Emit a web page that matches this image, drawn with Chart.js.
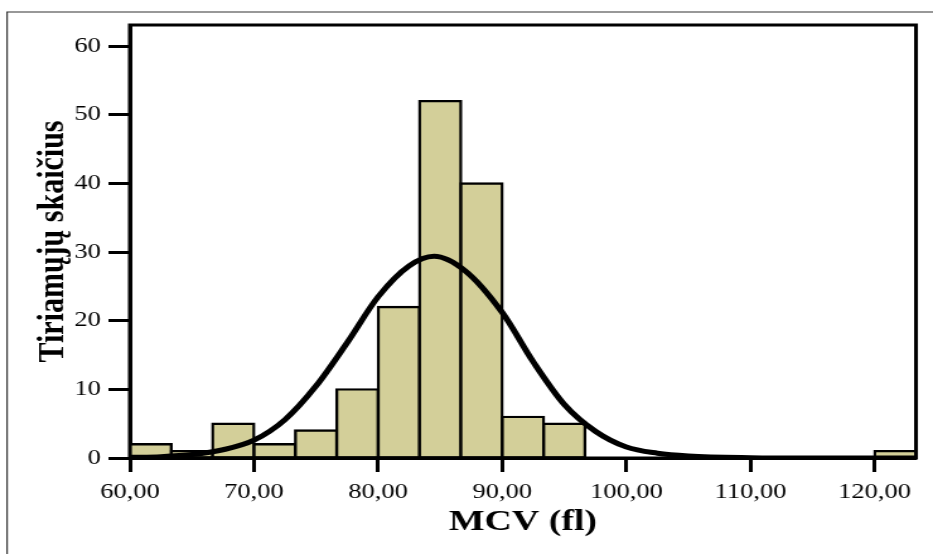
<!DOCTYPE html>
<html>
<head>
<meta charset="utf-8">
<script src="https://cdn.jsdelivr.net/npm/chart.js@4.4.1/dist/chart.umd.min.js"></script>
<style>
  html, body { margin: 0; padding: 0; background: #fff; }
  #hist { display: block; width: 933px; height: 554px; }
</style>
</head>
<body>
<canvas id="hist" width="740" height="554" style="width:933px;height:554px"></canvas>
<script>
// MCV histogram, bins of 3,33 fl
var binMids = [61.67, 65, 68.33, 71.67, 75, 78.33, 81.67, 85, 88.33, 91.67,
               95, 98.33, 101.67, 105, 108.33, 111.67, 115, 118.33, 121.67];
var counts = [2, 1, 5, 2, 4, 10, 22, 52, 40, 6, 5, 0, 0, 0, 0, 0, 0, 0, 1];

// normal curve, read point by point
var curveX = [60, 62.5, 65, 67.5, 70, 72.5, 75, 77.5, 80, 82.5, 84.5, 87, 90, 92.5, 95, 97.5, 100, 102.5, 105, 110, 115, 123.33];
var curveY = [0.1, 0.2, 0.5, 1.2, 2.6, 5.6, 10.5, 16.8, 23.5, 28.0, 29.4, 27.3, 21.2, 14.0, 7.8, 3.9, 1.6, 0.7, 0.3, 0.05, 0, 0];

var xTicks = [60, 70, 80, 90, 100, 110, 120];
var xTickLabels = ['60,00', '70,00', '80,00', '90,00', '100,00', '110,00', '120,00'];
var yTicks = [0, 10, 20, 30, 40, 50, 60];
var yTickLabels = ['0', '10', '20', '30', '40', '50', '60'];

var serif = "'Liberation Serif', 'Times New Roman', serif";

var frame = {
    id: 'frame',
    beforeDraw: function (chart) {
        var c = chart.ctx;
        c.save();
        c.strokeStyle = '#333';
        c.lineWidth = 1.2;
        c.beginPath();
        c.moveTo(5.6, chart.height + 2);
        c.lineTo(5.6, 12);
        c.lineTo(chart.width + 2, 12);
        c.stroke();
        c.restore();
    },
    afterDraw: function (chart) {
        var a = chart.chartArea;
        var c = chart.ctx;
        c.save();
        c.strokeStyle = '#000';
        c.lineWidth = 3;
        c.strokeRect(a.left, a.top, a.right - a.left, a.bottom - a.top);
        c.restore();
    }
};

var ctx = document.getElementById('hist');
var myChart = new Chart(ctx, {
    type: 'bar',
    data: {
        datasets: [{
            type: 'line',
            data: curveX.map(function (x, i) { return {x: x, y: curveY[i]}; }),
            borderColor: '#000',
            borderWidth: 5,
            pointRadius: 0,
            cubicInterpolationMode: 'monotone',
            borderCapStyle: 'round',
            fill: false,
            order: 0
        }, {
            type: 'bar',
            data: binMids.map(function (x, i) { return {x: x, y: counts[i]}; }),
            backgroundColor: '#d3cf99',
            borderColor: '#000',
            borderWidth: 2.4,
            borderSkipped: false,
            inflateAmount: 1.2,
            barPercentage: 1,
            categoryPercentage: 1,
            order: 1
        }]
    },
    options: {
        responsive: false,
        animation: false,
        devicePixelRatio: 1,
        layout: { padding: { left: 0, right: 13.5, top: 25, bottom: 0 } },
        plugins: { legend: { display: false }, tooltip: { enabled: false } },
        scales: {
            x: {
                type: 'linear',
                min: 60,
                max: 123.33,
                offset: false,
                afterFit: function (s) { s.height = 96; },
                afterBuildTicks: function (s) { s.ticks = xTicks.map(function (v) { return {value: v}; }); },
                grid: { offset: false, drawOnChartArea: false, drawTicks: true, tickLength: 14, tickWidth: 3, tickColor: '#000', color: '#000' },
                border: { display: true, color: '#000', width: 3 },
                ticks: {
                    padding: 8,
                    color: '#000',
                    maxRotation: 0,
                    font: { family: serif, size: 21 },
                    callback: function (v, i) { return xTickLabels[i]; }
                },
                title: {
                    display: true,
                    text: 'MCV (fl)',
                    color: '#000',
                    font: { family: serif, size: 30, weight: 'bold', lineHeight: 1.2 },
                    padding: { top: 0, bottom: 14 }
                }
            },
            y: {
                min: 0,
                max: 63.1,
                afterFit: function (s) { s.width = 103; },
                afterBuildTicks: function (s) { s.ticks = yTicks.map(function (v) { return {value: v}; }); },
                grid: { drawOnChartArea: false, drawTicks: true, tickLength: 17, tickWidth: 3, tickColor: '#000', color: '#000' },
                border: { display: true, color: '#000', width: 3 },
                ticks: {
                    padding: 6,
                    color: '#000',
                    font: { family: serif, size: 21 },
                    callback: function (v, i) { return yTickLabels[i]; }
                },
                title: {
                    display: true,
                    text: 'Tiriamųjų skaičius',
                    color: '#000',
                    font: { family: serif, size: 30, weight: 'bold', lineHeight: 1.2 },
                    padding: { top: 24, bottom: 0 }
                }
            }
        }
    },
    plugins: [frame]
});
</script>
</body>
</html>
